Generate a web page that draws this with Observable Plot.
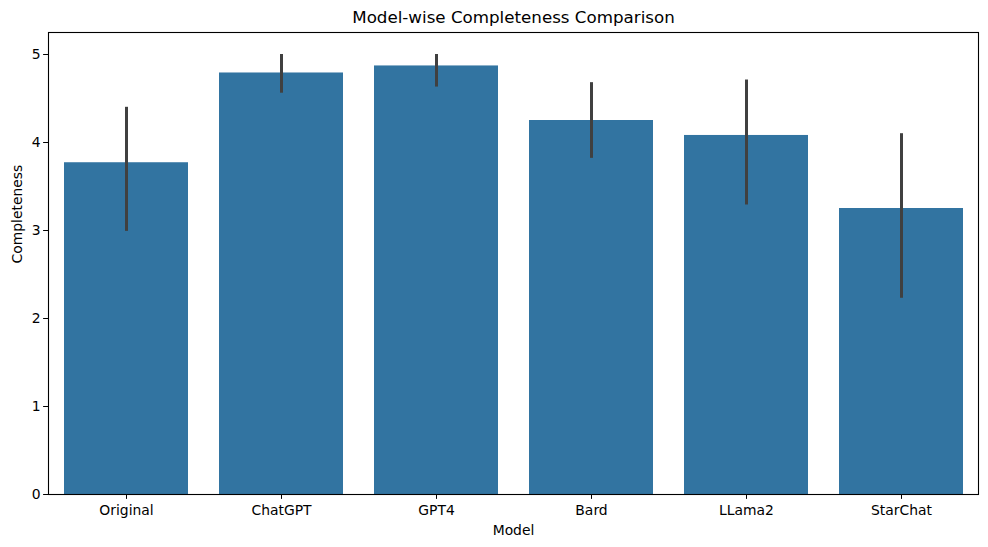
<!DOCTYPE html>
<html>
<head>
<meta charset="utf-8">
<script src="https://cdn.jsdelivr.net/npm/d3@7"></script>
<script src="https://cdn.jsdelivr.net/npm/@observablehq/plot@0.6"></script>
<style>
  html, body { margin: 0; padding: 0; background: #fff; }
  svg { display: block; }
</style>
</head>
<body>
<div id="chart"></div>
<script>
const models = ["Original", "ChatGPT", "GPT4", "Bard", "LLama2", "StarChat"];
const means  = [3.77, 4.79, 4.87, 4.25, 4.08, 3.25];
const ciLow  = [2.99, 4.56, 4.63, 3.82, 3.29, 2.23];
const ciHigh = [4.40, 5.00, 5.00, 4.68, 4.71, 4.10];
const yTicks = [0, 1, 2, 3, 4, 5];
const title = "Model-wise Completeness Comparison";
const xLabel = "Model";
const yLabel = "Completeness";

const data = models.map((m, i) => ({model: m, mean: means[i], lo: ciLow[i], hi: ciHigh[i]}));

const font = "DejaVu Sans, sans-serif";

const chart = Plot.plot({
  width: 988,
  height: 547,
  marginLeft: 48,
  marginRight: 10,
  marginTop: 32,
  marginBottom: 53,
  style: {fontFamily: font, fontSize: "13.9px", color: "#000", background: "#fff"},
  x: {domain: models, paddingInner: 0.2, paddingOuter: 0.1, label: null},
  y: {domain: [0, 5.25], label: null},
  marks: [
    Plot.barY(data, {x: "model", y: "mean", fill: "#3274a1"}),
    Plot.ruleX(data, {x: "model", y1: "lo", y2: "hi", stroke: "#404040", strokeWidth: 3}),
    Plot.frame({stroke: "#000", strokeWidth: 1.1}),
    Plot.axisY({ticks: yTicks, tickSize: 4.9, tickPadding: 3, tickFormat: d3.format("d"), label: null, fontSize: 13.9, stroke: "#000"}),
    Plot.axisX({tickSize: 4.9, tickPadding: 6, label: null, fontSize: 13.9, stroke: "#000"}),
    Plot.text([xLabel], {frameAnchor: "bottom", lineAnchor: "middle", dy: 36, text: d => d, fontSize: 13.9, fill: "#000"}),
    Plot.text([yLabel], {frameAnchor: "left", dx: -31, rotate: -90, text: d => d, fontSize: 13.9, fill: "#000"}),
    Plot.text([title], {frameAnchor: "top", lineAnchor: "middle", dy: -15, text: d => d, fontSize: 16.7, fill: "#000"})
  ]
});
document.getElementById("chart").appendChild(chart);
</script>
</body>
</html>
